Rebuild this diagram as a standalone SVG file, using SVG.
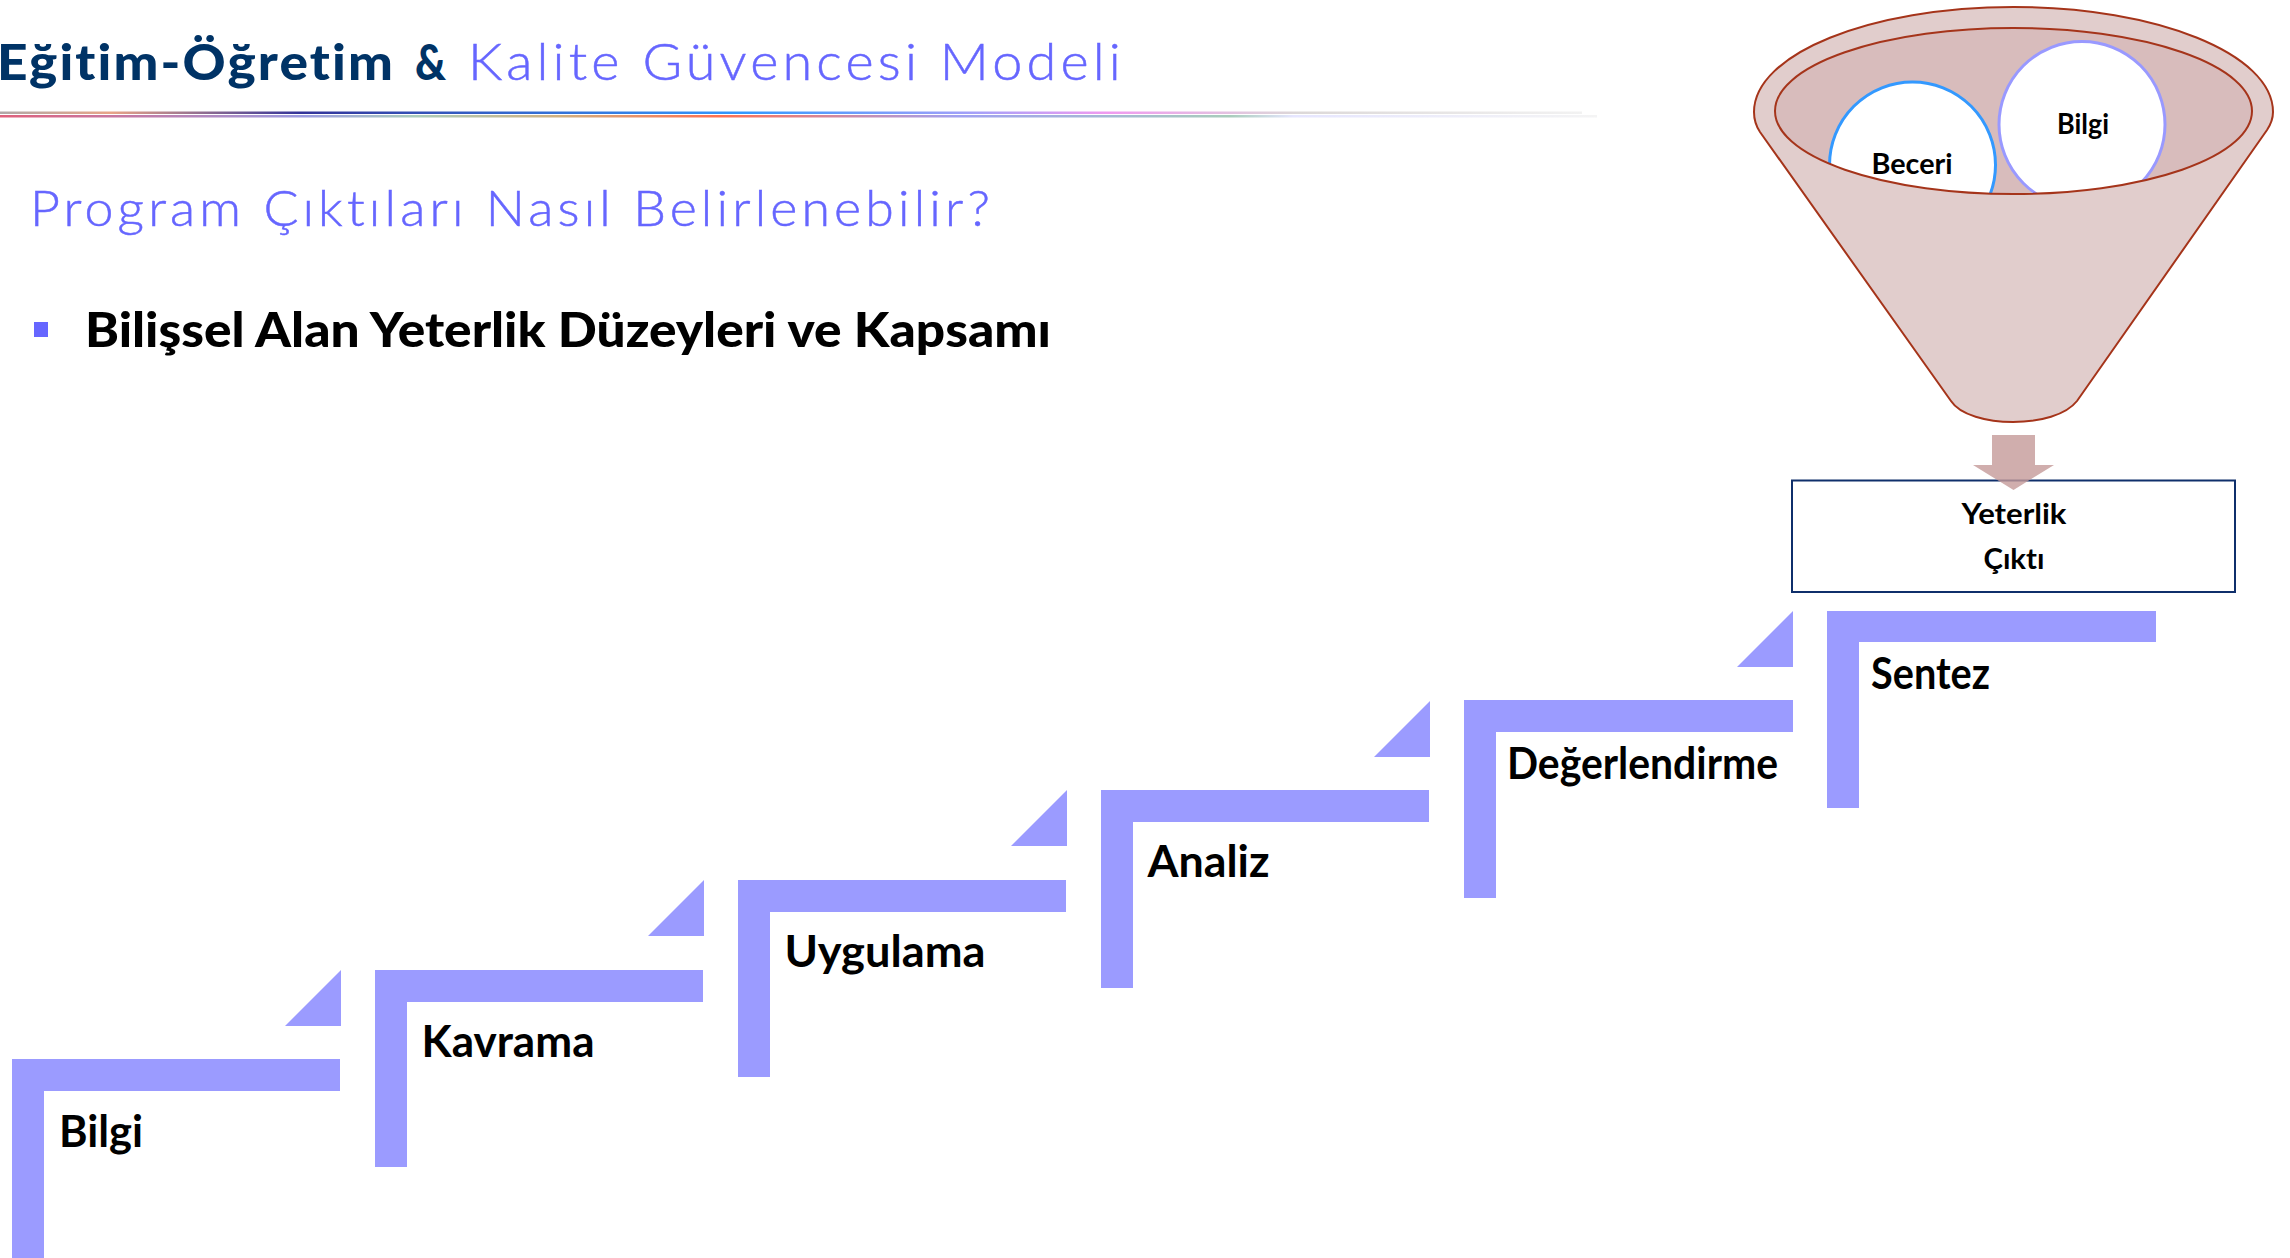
<svg xmlns="http://www.w3.org/2000/svg" width="2290" height="1258" viewBox="0 0 2290 1258">
<style>
text{font-family:"Lato","Liberation Sans",sans-serif;font-variant-ligatures:none}
.step{fill:#9B9BFF}
.lab{font-size:44px;font-weight:700;fill:#000}
.small{font-size:28px;font-weight:700;fill:#000;text-anchor:middle}
.blue{fill:#6666FF;font-weight:300;stroke:#6666FF;stroke-width:.5px}
.navy{fill:#003366;font-weight:900}
.funnel{fill:#E1CDCC;stroke:#A5341A;stroke-width:2}
</style>
<defs>
<linearGradient id="g1" gradientUnits="userSpaceOnUse" x1="0" y1="0" x2="1582" y2="0">
<stop offset="0" stop-color="#b0a8a8"/><stop offset=".07" stop-color="#e8a488"/><stop offset=".19" stop-color="#333399"/><stop offset=".32" stop-color="#3366CC"/><stop offset=".47" stop-color="#3399FF"/><stop offset=".62" stop-color="#A8A0F8"/><stop offset=".70" stop-color="#F09AF0"/><stop offset=".82" stop-color="#dcd8d8"/><stop offset="1" stop-color="#f2f2f2"/>
</linearGradient>
<linearGradient id="g2" gradientUnits="userSpaceOnUse" x1="0" y1="0" x2="1597" y2="0">
<stop offset="0" stop-color="#E0607A"/><stop offset=".19" stop-color="#9B9BE0"/><stop offset=".26" stop-color="#AACCBB"/><stop offset=".35" stop-color="#D0B080"/><stop offset=".45" stop-color="#FF7050"/><stop offset=".60" stop-color="#A0A0F0"/><stop offset=".77" stop-color="#A8CCBB"/><stop offset=".81" stop-color="#E6E6FF"/><stop offset="1" stop-color="#f4f4f4"/>
</linearGradient>
<clipPath id="inner"><ellipse cx="2013.5" cy="111" rx="238.5" ry="83"/></clipPath>
</defs>
<rect width="2290" height="1258" fill="#fff"/>

<g id="header">
<text x="-3" y="80" font-size="50" class="navy" letter-spacing="2" textLength="398" lengthAdjust="spacingAndGlyphs">Eğitim-Öğretim</text>
<text x="415" y="80" font-size="50" class="navy" textLength="31" lengthAdjust="spacingAndGlyphs">&amp;</text>
<text x="468" y="80" font-size="52" class="blue" letter-spacing="4" textLength="657" lengthAdjust="spacingAndGlyphs">Kalite Güvencesi Modeli</text>
<rect x="0" y="111.5" width="1582" height="2.5" fill="url(#g1)"/>
<rect x="0" y="115" width="1597" height="2.5" fill="url(#g2)"/>
<text x="30" y="226" font-size="50" class="blue" letter-spacing="4" textLength="964" lengthAdjust="spacingAndGlyphs">Program Çıktıları Nasıl Belirlenebilir?</text>
<rect x="34" y="322" width="14" height="15" fill="#6666FF"/>
<text x="85" y="347" font-size="47" font-weight="900" fill="#000" textLength="966" lengthAdjust="spacingAndGlyphs">Bilişsel Alan Yeterlik Düzeyleri ve Kapsamı</text>
</g>

<g id="funnel">
<path class="funnel" d="M1760 132C1756 126 1754 119 1754 112C1754 54 1870 7 2013.500 7C2157 7 2273 54 2273 112C2273 119 2271 124 2267 130L2077 401C2066 415 2040 422 2013 422C1987 422 1960 415 1951 401Z"/>
<ellipse cx="2013.5" cy="111" rx="238.5" ry="83" fill="#D8BCBC"/>
<g clip-path="url(#inner)">
<circle id="circle-beceri" cx="1912.5" cy="165" r="83" fill="#fff" stroke="#3399FF" stroke-width="3"/>
<circle id="circle-bilgi" cx="2082" cy="124.500" r="83" fill="#fff" stroke="#9999FF" stroke-width="3"/>
</g>
<ellipse cx="2013.5" cy="111" rx="238.5" ry="83" fill="none" stroke="#A5341A" stroke-width="2"/>
<text class="small" x="1912" y="174" textLength="81" lengthAdjust="spacingAndGlyphs">Beceri</text>
<text class="small" x="2083" y="134" textLength="52" lengthAdjust="spacingAndGlyphs">Bilgi</text>
</g>

<g id="yeterlik-box">
<rect x="1792" y="480.500" width="443" height="111.500" fill="#fff" stroke="#0F2F6B" stroke-width="2"/>
<text class="small" x="2014" y="524" font-size="31" textLength="105" lengthAdjust="spacingAndGlyphs">Yeterlik</text>
<text class="small" x="2014" y="569" font-size="31" textLength="61" lengthAdjust="spacingAndGlyphs">Çıktı</text>
</g>

<g id="connectors">
<polygon points="1992,435 2035,435 2035,465 2054,465 2013.500,490 1973,465 1992,465" fill="#C49A98" fill-opacity=".8"/>
<polygon class="step" points="285,1026 341,970 341,1026"/>
<polygon class="step" points="648,936 704,880 704,936"/>
<polygon class="step" points="1011,846 1067,790 1067,846"/>
<polygon class="step" points="1374,757 1430,701 1430,757"/>
<polygon class="step" points="1737,667 1793,611 1793,667"/>
</g>

<g id="step-bilgi">
<polygon class="step" points="12,1059 340,1059 340,1091 44,1091 44,1258 12,1258"/>
<text class="lab" x="59" y="1147" textLength="84" lengthAdjust="spacingAndGlyphs">Bilgi</text>
</g>
<g id="step-kavrama">
<polygon class="step" points="375,970 703,970 703,1002 407,1002 407,1167 375,1167"/>
<text class="lab" x="421.500" y="1057" textLength="173" lengthAdjust="spacingAndGlyphs">Kavrama</text>
</g>
<g id="step-uygulama">
<polygon class="step" points="738,880 1066,880 1066,912 770,912 770,1077 738,1077"/>
<text class="lab" x="784.500" y="967" textLength="201" lengthAdjust="spacingAndGlyphs">Uygulama</text>
</g>
<g id="step-analiz">
<polygon class="step" points="1101,790 1429,790 1429,822 1133,822 1133,988 1101,988"/>
<text class="lab" x="1147.500" y="877" textLength="122" lengthAdjust="spacingAndGlyphs">Analiz</text>
</g>
<g id="step-degerlendirme">
<polygon class="step" points="1464,700 1793,700 1793,732 1496,732 1496,898 1464,898"/>
<text class="lab" x="1507" y="779" textLength="271" lengthAdjust="spacingAndGlyphs">Değerlendirme</text>
</g>
<g id="step-sentez">
<polygon class="step" points="1827,611 2156,611 2156,642 1859,642 1859,808 1827,808"/>
<text class="lab" x="1871" y="689" textLength="119" lengthAdjust="spacingAndGlyphs">Sentez</text>
</g>
</svg>
